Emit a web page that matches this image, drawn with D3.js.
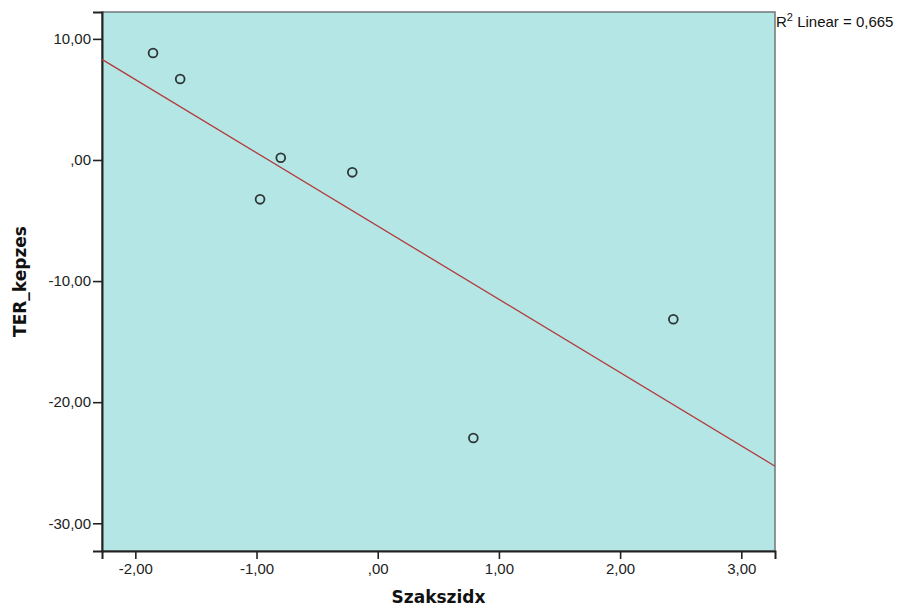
<!DOCTYPE html>
<html lang="en">
  <head>
    <meta charset="utf-8" />
    <script src="https://d3js.org/d3.v7.min.js"></script>
    <style>
      body {
        margin: 0;
        background: #ffffff;
      }
      .tick text {
        font-family: "Liberation Sans", Arial, sans-serif;
        font-size: 15px;
        fill: #222;
      }
      .axis-title {
        font-family: "DejaVu Sans", Verdana, sans-serif;
        font-weight: bold;
        font-size: 17px;
        fill: #111;
      }
    </style>
    <title>Szakszidx vs TER_kepzes</title>
  </head>
  <body>
    <div id="my_dataviz"></div>
    <script>
      // data
      var xValues = [-1.854, -1.63, -0.971, -0.8, -0.21, 0.789, 2.439];
      var yValues = [8.84, 6.69, -3.25, 0.19, -1.02, -22.96, -13.15];
      var xTicks = [-2, -1, 0, 1, 2, 3];
      var yTicks = [10, 0, -10, -20, -30];
      var xDomain = [-2.275, 3.278];
      var yDomain = [-32.29, 12.22];
      var xLabel = "Szakszidx";
      var yLabel = "TER_kepzes";
      var fitLabel = "Linear = 0,665";

      var W = 900,
        H = 608;
      var margin = { top: 12, right: 125, bottom: 57, left: 102 },
        width = W - margin.left - margin.right,
        height = H - margin.top - margin.bottom;

      var svg = d3
        .select("#my_dataviz")
        .append("svg")
        .attr("width", W)
        .attr("height", H);

      var g = svg
        .append("g")
        .attr("transform", "translate(" + margin.left + "," + margin.top + ")");

      var x = d3.scaleLinear().domain(xDomain).range([0, width]);
      var y = d3.scaleLinear().domain(yDomain).range([height, 0]);

      // spss style numbers: 10,00  ,00  -2,00
      var fmt = function (v) {
        return v.toFixed(2).replace(".", ",").replace(/^0,/, ",");
      };

      // plot background
      g.append("rect")
        .attr("width", width)
        .attr("height", height)
        .attr("fill", "#b4e6e6")
        .attr("stroke", "#6f7777")
        .attr("stroke-width", 1.5);

      // axes
      var xAxis = g
        .append("g")
        .attr("transform", "translate(0," + height + ")")
        .call(d3.axisBottom(x).tickValues(xTicks).tickFormat(fmt).tickSize(8).tickPadding(4));
      var yAxis = g
        .append("g")
        .call(d3.axisLeft(y).tickValues(yTicks).tickFormat(fmt).tickSize(9).tickPadding(2));
      [xAxis, yAxis].forEach(function (a) {
        a.select(".domain").attr("stroke", "#222").attr("stroke-width", 2);
        a.selectAll(".tick line").attr("stroke", "#222").attr("stroke-width", 1.6);
      });

      // least squares fit line
      var mx = d3.mean(xValues),
        my = d3.mean(yValues);
      var sxy = d3.sum(xValues, function (v, i) {
        return (v - mx) * (yValues[i] - my);
      });
      var sxx = d3.sum(xValues, function (v) {
        return (v - mx) * (v - mx);
      });
      var slope = sxy / sxx,
        intercept = my - slope * mx;

      g.append("line")
        .attr("x1", x(xDomain[0]))
        .attr("y1", y(intercept + slope * xDomain[0]))
        .attr("x2", x(xDomain[1]))
        .attr("y2", y(intercept + slope * xDomain[1]))
        .attr("stroke", "#b33a3a")
        .attr("stroke-width", 1.3);

      // points
      g.append("g")
        .selectAll("circle")
        .data(xValues)
        .enter()
        .append("circle")
        .attr("cx", function (d) {
          return x(d);
        })
        .attr("cy", function (d, i) {
          return y(yValues[i]);
        })
        .attr("r", 4.4)
        .attr("fill", "none")
        .attr("stroke", "#2f3535")
        .attr("stroke-width", 1.8);

      // R2 label
      var r2 = svg
        .append("text")
        .attr("x", margin.left + width + 1)
        .attr("y", 27)
        .style("font-family", "'Liberation Sans', Arial, sans-serif")
        .style("font-size", "15px")
        .attr("fill", "#111");
      r2.append("tspan").text("R");
      r2.append("tspan").attr("dy", -6).style("font-size", "11px").text("2");
      r2.append("tspan").attr("dy", 6).text(" " + fitLabel);

      // axis titles
      svg
        .append("text")
        .attr("class", "axis-title")
        .attr("text-anchor", "middle")
        .attr("x", margin.left + width / 2)
        .attr("y", 603)
        .text(xLabel);

      svg
        .append("text")
        .attr("class", "axis-title")
        .attr("text-anchor", "middle")
        .attr("transform", "translate(26," + (margin.top + height / 2) + ") rotate(-90)")
        .text(yLabel);
    </script>
  </body>
</html>
